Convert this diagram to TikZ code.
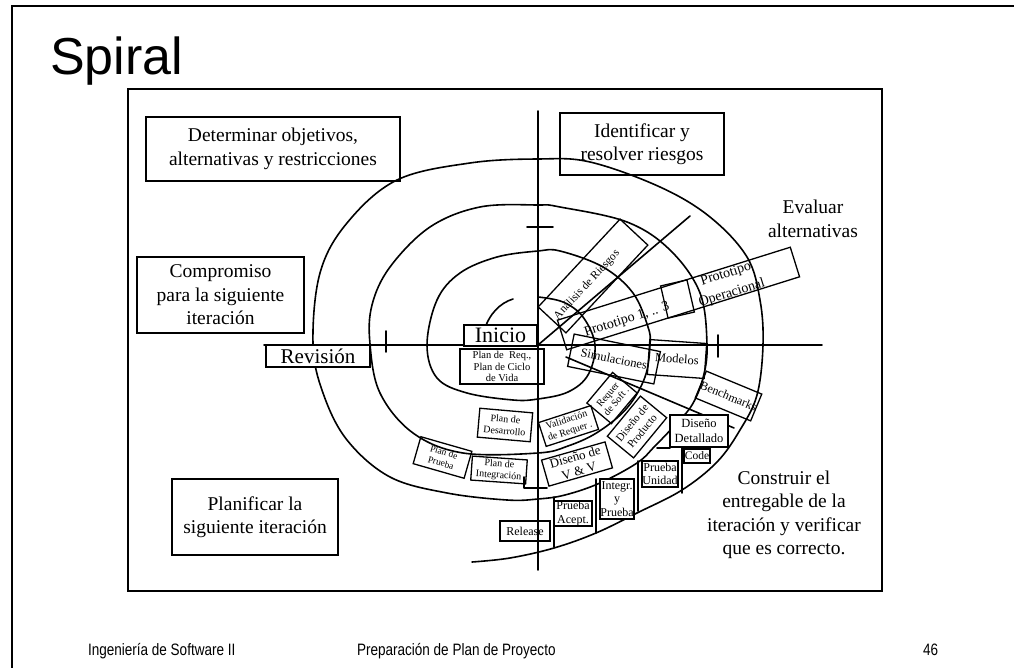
\documentclass[tikz,border=0pt]{standalone}
\usepackage{fontspec}
\setmainfont{Liberation Serif}
\newfontfamily\titlefont{Liberation Sans}
\newfontfamily\footfont[FakeStretch=0.82]{Liberation Sans}
\newcommand\myfs[2]{\fontsize{#1pt}{#2pt}\selectfont}
\begin{document}
\begin{tikzpicture}[x=1pt,y=-1pt,
  every node/.style={inner sep=0pt, outer sep=0pt},
  ln/.style={line width=1.6pt, line join=round, line cap=round},
  bigbox/.style={draw, line width=1.9pt, align=center, font=\myfs{19.5}{23.5}},
  bigtxt/.style={align=center, font=\myfs{19.5}{23.5}},
  rbox/.style={draw, line width=1.3pt, align=center},
  tbox/.style={draw, line width=2.2pt, align=center},
  wbox/.style={tbox, fill=white}
]
\useasboundingbox (0,0) rectangle (1014,668);
% slide frame
\draw[line width=2pt] (12,668) -- (12,6) -- (1014,6);
\node[anchor=base west, font=\titlefont\myfs{52}{60}] (title) at (50,75) {Spiral};
% picture frame
\draw[line width=2pt] (128,89) rectangle (882,591);

% spiral
\draw[ln] plot[smooth, tension=0.6] coordinates {
 (538,297) (563,302) (583,317) (595,345) (588,375) (568,392) (538,399)
 (513,400) (467,393) (437,378) (427,345) (437,300) (460,273) (497,257) (538,251)
 (560,251) (603,267) (633,293) (648,327) (650,345) (645,377) (627,408) (598,432) (568,446) (538,453)
 (463,453) (413,433) (380,393) (370,344) (372,305) (390,267) (430,227) (480,207) (538,205)
 (560,207) (627,222) (670,250) (700,293) (707,345) (703,378) (692,405) (675,425) (655,446) (637,463) (600,483) (565,495) (538,499)
 (507,500) (447,493) (390,477) (347,440) (323,393) (313,344) (320,273) (347,223) (397,180) (470,163) (538,159)
 (590,162) (660,187) (710,217) (747,257) (760,300) (763,345) (757,395) (740,430) (717,462) (682,490) (637,513) (596,533) (554,548) (510,558) (472,562)
};
\coordinate (stubA) at (484,331);
\coordinate (stubB) at (513,299);
\draw[ln] (stubA) .. controls (489,314) and (500,303) .. (stubB);

% axes and ticks
\coordinate (ctr) at (538,345);
\coordinate (vt) at (538,111);
\coordinate (vb) at (538,570);
\coordinate (hl) at (264,345);
\coordinate (hr) at (822,345);
\draw[ln] (vt) -- (vb);
\draw[ln] (hl) -- (hr);
\coordinate (tk1a) at (527,227); \coordinate (tk1b) at (553,227);
\coordinate (tk2a) at (386,331); \coordinate (tk2b) at (386,352);
\coordinate (tk3a) at (718,335); \coordinate (tk3b) at (718,357);
\draw[ln] (tk1a) -- (tk1b);
\draw[ln] (tk2a) -- (tk2b);
\draw[ln] (tk3a) -- (tk3b);

% radial lines
\coordinate (r1) at (690,216);
\draw[ln] (ctr) -- (r1);
\coordinate (r2a) at (566,357);
\coordinate (r2b) at (734,428);
\draw[ln] (r2a) -- (r2b);

% dividers in build sector
\coordinate (d1a) at (682,447); \coordinate (d1b) at (682,493);
\coordinate (d2a) at (638,461); \coordinate (d2b) at (638,511);
\coordinate (d3a) at (596,479); \coordinate (d3b) at (596,533);
\coordinate (d4a) at (554,497); \coordinate (d4b) at (554,547);
\coordinate (d5a) at (524,477); \coordinate (d5b) at (524,488); \coordinate (d5c) at (547,488);
\coordinate (d6a) at (657,448); \coordinate (d6b) at (670,448);
\draw[ln] (d1a) -- (d1b);
\draw[ln] (d2a) -- (d2b);
\draw[ln] (d3a) -- (d3b);
\draw[ln] (d4a) -- (d4b);
\draw[ln] (d5a) -- (d5b) -- (d5c);
\draw[ln] (d6a) -- (d6b);

% quadrant boxes
\node[bigbox, minimum width=254pt, minimum height=64pt] (det) at (273,149) {Determinar objetivos,\\alternativas y restricciones};
\node[bigbox, minimum width=164pt, minimum height=62pt] (ide) at (642,144) {Identificar y\\resolver riesgos};
\node[bigbox, minimum width=167pt, minimum height=76pt] (com) at (220.5,295) {Compromiso\\para la siguiente\\iteración};
\node[bigbox, minimum width=166pt, minimum height=76pt] (pla) at (255,517) {Planificar la\\siguiente iteración};
\node[bigtxt] (eva) at (813,219) {Evaluar\\alternativas};
\node[bigtxt] (con) at (784,515) {Construir el\\entregable de la\\iteración y verificar\\que es correcto.};

% centre boxes
\node[wbox, line width=2pt, minimum width=104pt, minimum height=22pt, font=\myfs{21}{24}] (rev) at (318,356) {Revisión};
\node[wbox, line width=2pt, minimum width=73pt, minimum height=21pt, font=\myfs{22}{24}] (ini) at (500.5,335.5) {Inicio};
\node[tbox, line width=2pt, minimum width=84pt, minimum height=35pt, font=\myfs{10.5}{11.5}] (preq) at (502,366.5) {Plan de \ Req.,\\Plan de Ciclo\\de Vida};

% risk / prototype boxes
\node[rbox, minimum width=120pt, minimum height=38pt, rotate=47] (anal) at (593,276) {};
\node[rotate=47, font=\myfs{11.5}{13}] (analt) at (587,285) {Análisis de Riesgos};
\node[rbox, minimum width=244pt, minimum height=31pt, rotate=17.4] (proto) at (678.5,298.5) {};
\node[rbox, minimum width=27pt, minimum height=33pt, rotate=13] (protosq) at (677.5,299) {};
\node[rotate=17.4, font=\myfs{14}{16}] (proto1) at (627,320) {Prototipo 1, .. 3};
\node[rotate=17.4, font=\myfs{14}{20}, align=center] (protoop) at (729,284) {Prototipo\\Operacional};
\node[rbox, minimum width=88pt, minimum height=33pt, rotate=-11.5, font=\myfs{12.5}{14}] (simu) at (614,359) {Simulaciones};
\node[rbox, minimum width=57pt, minimum height=35pt, rotate=-4, font=\myfs{12.5}{14}] (mode) at (677,359) {Modelos};
\node[rbox, minimum width=57pt, minimum height=29pt, rotate=-22.5, font=\myfs{12}{14}] (bench) at (728.5,396) {Benchmarks};

% requirement / design boxes
\node[rbox, minimum width=40pt, minimum height=32pt, rotate=50, font=\myfs{10}{11}] (reqs) at (612,398) {Requer\\de Soft .};
\node[rbox, minimum width=55pt, minimum height=25pt, rotate=18, font=\myfs{10}{11.5}] (valr) at (568.5,426) {Validación\\de Requer .};
\node[rbox, minimum width=52pt, minimum height=34pt, rotate=50.5, font=\myfs{11}{13}] (dprod) at (637,427) {Diseño de\\Producto};
\node[rbox, minimum width=66pt, minimum height=27pt, rotate=16, font=\myfs{13}{14.5}] (dvv) at (577,464) {Diseño de\\V \& V};
\node[rbox, minimum width=53pt, minimum height=29pt, rotate=-5, font=\myfs{10}{12}] (pdes) at (505,425) {Plan de\\Desarrollo};
\node[rbox, minimum width=53pt, minimum height=28pt, rotate=-16, font=\myfs{9.5}{11}] (ppru) at (442.5,457.5) {Plan de\\Prueba};
\node[rbox, minimum width=55pt, minimum height=24pt, rotate=-4, font=\myfs{10}{11.5}] (pint) at (499,470) {Plan de\\Integración};

% build boxes
\node[wbox, minimum width=58pt, minimum height=32pt, font=\myfs{12.5}{15}] (ddet) at (699,431) {Diseño\\Detallado};
\node[wbox, minimum width=26pt, minimum height=14pt, font=\myfs{11.5}{13}] (code) at (697,456) {Code};
\node[wbox, minimum width=36pt, minimum height=26pt, font=\myfs{12}{13.5}] (puni) at (660,474) {Prueba\\Unidad};
\node[wbox, minimum width=34pt, minimum height=40pt, font=\myfs{12}{13.5}] (intg) at (617,499) {Integr.\\y\\Prueba};
\node[wbox, minimum width=38pt, minimum height=25pt, font=\myfs{12}{13.5}] (pacc) at (573,513.5) {Prueba\\Acept.};
\node[tbox, minimum width=50pt, minimum height=20pt, font=\myfs{12}{13.5}] (rel) at (525,531) {Release};

% footer
\node[anchor=base west, font=\footfont\myfs{16.5}{18}] (f1) at (88,655) {Ingeniería de Software II};
\node[anchor=base west, font=\footfont\myfs{16.5}{18}] (f2) at (357,655) {Preparación de Plan de Proyecto};
\node[anchor=base west, font=\footfont\myfs{16.5}{18}] (f3) at (923,655) {46};
\end{tikzpicture}
\end{document}
